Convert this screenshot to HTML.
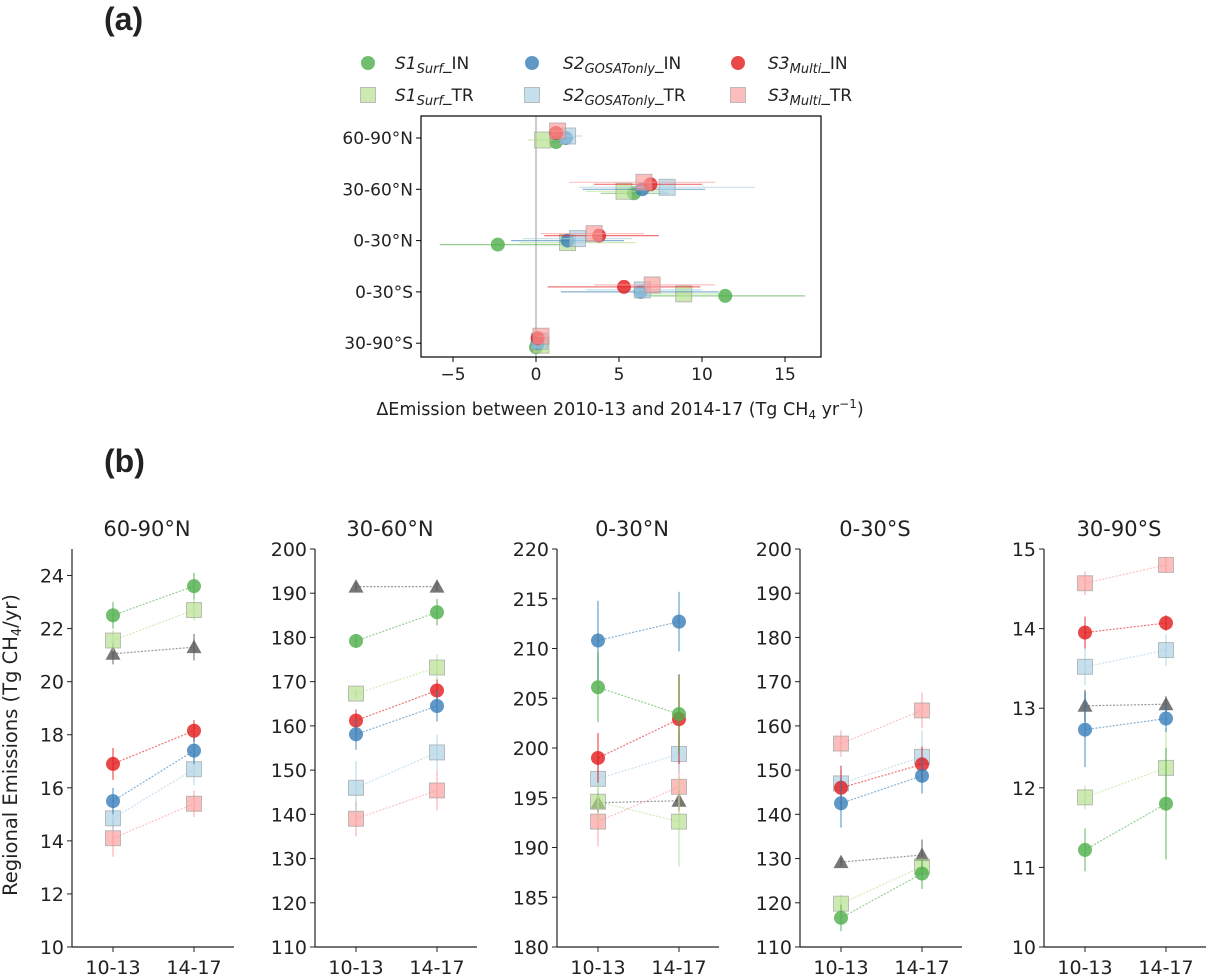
<!DOCTYPE html>
<html><head><meta charset="utf-8">
<style>
body{margin:0;background:#fff;width:1208px;height:978px;overflow:hidden}
svg{display:block}
text{font-family:"DejaVu Sans","Liberation Sans",sans-serif;fill:#222}
</style></head>
<body>
<svg id="fig" width="1208" height="978" xmlns="http://www.w3.org/2000/svg">
<text x="104" y="30" style="font-family:'Liberation Sans',sans-serif;font-weight:bold;font-size:32px" fill="#000">(a)</text>
<text x="104" y="472" style="font-family:'Liberation Sans',sans-serif;font-weight:bold;font-size:32px" fill="#000">(b)</text>
<g id="legend"></g>
<g id="pa"></g>
<g id="pb"></g>
</svg>
<script>
// ---------- Panel (a) data ----------
const regionsA = ["60-90°N","30-60°N","0-30°N","0-30°S","30-90°S"];
const seriesNames = ["S1_IN","S1_TR","S2_IN","S2_TR","S3_IN","S3_TR"];
const S1_IN_a  = [1.2, 5.9, -2.3, 11.4, 0.0];
const S1_IN_lo = [0.9, 3.9, -5.8, 6.6, -0.1];
const S1_IN_hi = [1.5, 8.0, 1.5, 16.2, 0.1];
const S1_TR_a  = [0.4, 5.3, 1.9, 8.9, 0.3];
const S1_TR_lo = [-0.5, 3.0, -1.0, 6.0, 0.1];
const S1_TR_hi = [1.0, 7.8, 6.0, 11.0, 0.5];
const S2_IN_a  = [1.8, 6.4, 1.9, 6.3, 0.1];
const S2_IN_lo = [1.3, 2.8, -1.5, 1.5, 0.0];
const S2_IN_hi = [2.3, 10.2, 5.3, 11.0, 0.3];
const S2_TR_a  = [1.9, 7.9, 2.5, 6.4, 0.2];
const S2_TR_lo = [1.2, 2.6, -0.8, 3.0, 0.0];
const S2_TR_hi = [2.8, 13.2, 5.8, 10.0, 0.4];
const S3_IN_a  = [1.2, 6.9, 3.8, 5.3, 0.1];
const S3_IN_lo = [0.8, 3.5, 0.5, 0.7, 0.0];
const S3_IN_hi = [1.6, 10.0, 7.4, 9.9, 0.2];
const S3_TR_a  = [1.3, 6.5, 3.5, 7.0, 0.3];
const S3_TR_lo = [0.9, 2.0, 0.3, 3.5, 0.1];
const S3_TR_hi = [1.7, 10.8, 6.5, 10.8, 0.5];
const xTicksA = [-5,0,5,10,15];

// ---------- Panel (b) data ----------
const regionsB = ["60-90°N","30-60°N","0-30°N","0-30°S","30-90°S"];
const periods = ["10-13","14-17"];
const yMinB = [10,110,180,110,10];
const yMaxB = [25,200,220,200,15];
const yTicksB = [[10,12,14,16,18,20,22,24],[110,120,130,140,150,160,170,180,190,200],[180,185,190,195,200,205,210,215,220],[110,120,130,140,150,160,170,180,190,200],[10,11,12,13,14,15]];
const prior_b = [[21.05,21.3],[191.5,191.5],[194.5,194.7],[129.2,130.8],[13.03,13.05]];
const S1_IN_b = [[22.5,23.6],[179.2,185.7],[206.1,203.4],[116.6,126.6],[11.22,11.8]];
const S1_TR_b = [[21.55,22.7],[167.3,173.2],[194.6,192.6],[119.8,128.2],[11.88,12.25]];
const S2_IN_b = [[15.5,17.4],[158.1,164.5],[210.8,212.7],[142.5,148.7],[12.73,12.87]];
const S2_TR_b = [[14.85,16.7],[146,154],[196.9,199.4],[147,153],[13.52,13.73]];
const S3_IN_b = [[16.9,18.15],[161.2,168],[199,202.9],[146,151.3],[13.95,14.07]];
const S3_TR_b = [[14.1,15.4],[139,145.4],[192.6,196.1],[156,163.5],[14.57,14.8]];
const prior_e = [[0.4,0.5],[1,1],[1,1],[1,3.5],[0.2,0.1]];
const S1_IN_e = [[0.5,0.5],[1.5,3],[3.5,4],[3,3.5],[0.27,0.7]];
const S1_TR_e = [[0.4,0.4],[1,3],[2,4.5],[2,2],[0.15,0.5]];
const S2_IN_e = [[0.5,0.5],[3.5,3.5],[4,3],[5.5,4],[0.47,0.17]];
const S2_TR_e = [[0.5,0.6],[6,4],[2,2],[3,6],[0.23,0.2]];
const S3_IN_e = [[0.6,0.4],[2.5,2.5],[2.5,4.5],[5,4],[0.2,0.1]];
const S3_TR_e = [[0.7,0.5],[4,4.5],[2.5,2.5],[3,4],[0.15,0.1]];

const NS="http://www.w3.org/2000/svg";
function mk(tag,attrs,parent,txt){const e=document.createElementNS(NS,tag);for(const k in attrs)e.setAttribute(k,attrs[k]);if(txt!==undefined)e.textContent=txt;parent.appendChild(e);return e;}
const COL={S1_IN:"#4daf4a",S1_TR:"#b2df8a",S2_IN:"#377eb8",S2_TR:"#a6cee3",S3_IN:"#e41a1c",S3_TR:"#fb9a99",prior:"#555"};
const SHAPE={S1_IN:"c",S1_TR:"s",S2_IN:"c",S2_TR:"s",S3_IN:"c",S3_TR:"s",prior:"t"};
function marker(g,type,x,y,col,r,name){
  let e;
  if(type==="c"){e=mk("circle",{cx:x,cy:y,r:r,fill:col,"fill-opacity":0.8},g);}
  else if(type==="s"){e=mk("rect",{x:x-r,y:y-r,width:2*r,height:2*r,fill:col,"fill-opacity":0.65,stroke:"#999","stroke-opacity":0.6,"stroke-width":1},g);}
  else {e=mk("path",{d:`M${x},${y-r} L${x+r},${y+r*0.8} L${x-r},${y+r*0.8}Z`,fill:col,"fill-opacity":0.8},g);}
  
  
  return e;
}

// ---------- Legend ----------
const lg=document.getElementById("legend");
const legItems=[["S1","Surf","IN","S1_IN",368,63,395],["S1","Surf","TR","S1_TR",368,95,395],["S2","GOSATonly","IN","S2_IN",532,63,563],["S2","GOSATonly","TR","S2_TR",532,95,563],["S3","Multi","IN","S3_IN",738,63,768],["S3","Multi","TR","S3_TR",738,95,768]];
legItems.forEach(it=>{
  const g=mk("g",{},lg);
  
  
  marker(g,SHAPE[it[3]],it[4],it[5],COL[it[3]],it[3].endsWith("IN")?7:7.5,'legend-marker');
  const t=mk("text",{x:it[6],y:it[5]+6,"font-size":"17"},g);
  mk("tspan",{"font-style":"italic"},t,it[0]);
  mk("tspan",{"font-style":"italic","font-size":"13",dy:"4"},t,it[1]);
  mk("tspan",{dy:"-4"},t,"_"+it[2]);
});

// ---------- Panel (a) ----------
const pa=document.getElementById("pa");
const AX={l:421,r:821,t:116,b:357};
const xA=v=>536+v*16.6;
const yCat=i=>138+i*51.3;
const offA={S1_IN:4,S1_TR:2,S2_IN:0,S2_TR:-2,S3_IN:-5,S3_TR:-7};
const aVals={S1_IN:[S1_IN_a,S1_IN_lo,S1_IN_hi],S1_TR:[S1_TR_a,S1_TR_lo,S1_TR_hi],S2_IN:[S2_IN_a,S2_IN_lo,S2_IN_hi],S2_TR:[S2_TR_a,S2_TR_lo,S2_TR_hi],S3_IN:[S3_IN_a,S3_IN_lo,S3_IN_hi],S3_TR:[S3_TR_a,S3_TR_lo,S3_TR_hi]};
let zl=mk("line",{x1:xA(0),x2:xA(0),y1:AX.t,y2:AX.b,stroke:"#999","stroke-width":1},pa);

seriesNames.forEach(s=>{
  const g=mk("g",{},pa);
  
  
  const [v,lo,hi]=aVals[s];
  v.forEach((val,i)=>{
    const y=yCat(i)+offA[s];
    const eb=mk("line",{x1:xA(lo[i]),x2:xA(hi[i]),y1:y,y2:y,stroke:COL[s],"stroke-opacity":0.6,"stroke-width":1.2},g);
    
  });
  v.forEach((val,i)=>{marker(g,SHAPE[s],xA(val),yCat(i)+offA[s],COL[s],SHAPE[s]==="c"?7:8,'point-'+s.toLowerCase());});
});
let fr=mk("rect",{x:AX.l,y:AX.t,width:AX.r-AX.l,height:AX.b-AX.t,fill:"none",stroke:"#000","stroke-width":1.2},pa);

xTicksA.forEach(t=>{
  const x=xA(t);
  mk("line",{x1:x,x2:x,y1:AX.b,y2:AX.b+5,stroke:"#000"},pa);
  const tl=mk("text",{x:x,y:AX.b+23,"font-size":"17","text-anchor":"middle"},pa,t<0?"−"+(-t):String(t));
  
});
regionsA.forEach((r,i)=>{
  const y=yCat(i);
  mk("line",{x1:AX.l-5,x2:AX.l,y1:y,y2:y,stroke:"#000"},pa);
  const tl=mk("text",{x:AX.l-8,y:y+6,"font-size":"17","text-anchor":"end"},pa,r.replace("°","°"));
  
});
const xt=mk("text",{x:620,y:415,"font-size":"17.5","text-anchor":"middle"},pa);

mk("tspan",{},xt,"ΔEmission between 2010-13 and 2014-17 (Tg CH");
mk("tspan",{"font-size":"12",dy:"4"},xt,"4");
mk("tspan",{dy:"-4"},xt," yr");
mk("tspan",{"font-size":"12",dy:"-7"},xt,"−1");
mk("tspan",{dy:"7"},xt,")");

// ---------- Panel (b) ----------
const pb=document.getElementById("pb");
const spX=[72,315,557,800,1044];
const PW=162, PT=549, PB=947;
const bSeries=[["prior",prior_b,prior_e],["S3_TR",S3_TR_b,S3_TR_e],["S2_TR",S2_TR_b,S2_TR_e],["S1_TR",S1_TR_b,S1_TR_e],["S3_IN",S3_IN_b,S3_IN_e],["S2_IN",S2_IN_b,S2_IN_e],["S1_IN",S1_IN_b,S1_IN_e]];
regionsB.forEach((reg,p)=>{
  const g=mk("g",{},pb);
  
  
  const x0=spX[p];
  const yS=v=>PB-(v-yMinB[p])/(yMaxB[p]-yMinB[p])*(PB-PT);
  const xS=i=>x0+41+i*81;
  const tt=mk("text",{x:x0+PW/2-6,y:536,"font-size":"21","text-anchor":"middle"},g,reg.replace("°","°"));
  
  mk("line",{x1:x0,x2:x0,y1:PT,y2:PB,stroke:"#222","stroke-width":1.2},g);
  mk("line",{x1:x0,x2:x0+PW,y1:PB,y2:PB,stroke:"#222","stroke-width":1.2},g);
  yTicksB[p].forEach(t=>{
    const y=yS(t);
    mk("line",{x1:x0-5,x2:x0,y1:y,y2:y,stroke:"#222"},g);
    const tl=mk("text",{x:x0-8,y:y+7,"font-size":"19","text-anchor":"end"},g,String(t));
    
  });
  periods.forEach((pp,i)=>{
    mk("line",{x1:xS(i),x2:xS(i),y1:PB,y2:PB+5,stroke:"#222"},g);
    const tl=mk("text",{x:xS(i),y:PB+27,"font-size":"19","text-anchor":"middle"},g,pp);
    
  });
  bSeries.forEach(([s,vals,errs])=>{
    const v=vals[p], e=errs[p];
    const ln=mk("line",{x1:xS(0),x2:xS(1),y1:yS(v[0]),y2:yS(v[1]),stroke:COL[s],"stroke-opacity":0.6,"stroke-width":1.2,"stroke-dasharray":"2,1.5"},g);
    
    v.forEach((val,i)=>{
      const eb=mk("line",{x1:xS(i),x2:xS(i),y1:yS(val-e[i]),y2:yS(val+e[i]),stroke:COL[s],"stroke-opacity":0.6,"stroke-width":1.5},g);
      
      marker(g,SHAPE[s],xS(i),yS(val),COL[s],SHAPE[s]==="c"?7:7.5,'point-'+s.toLowerCase());
    });
  });
});
const yl=mk("text",{x:0,y:0,"font-size":"19.5","text-anchor":"middle",transform:"translate(17,745) rotate(-90)"},pb);

mk("tspan",{},yl,"Regional Emissions (Tg CH");
mk("tspan",{"font-size":"13",dy:"4"},yl,"4");
mk("tspan",{dy:"-4"},yl,"/yr)");
</script>
</body></html>
